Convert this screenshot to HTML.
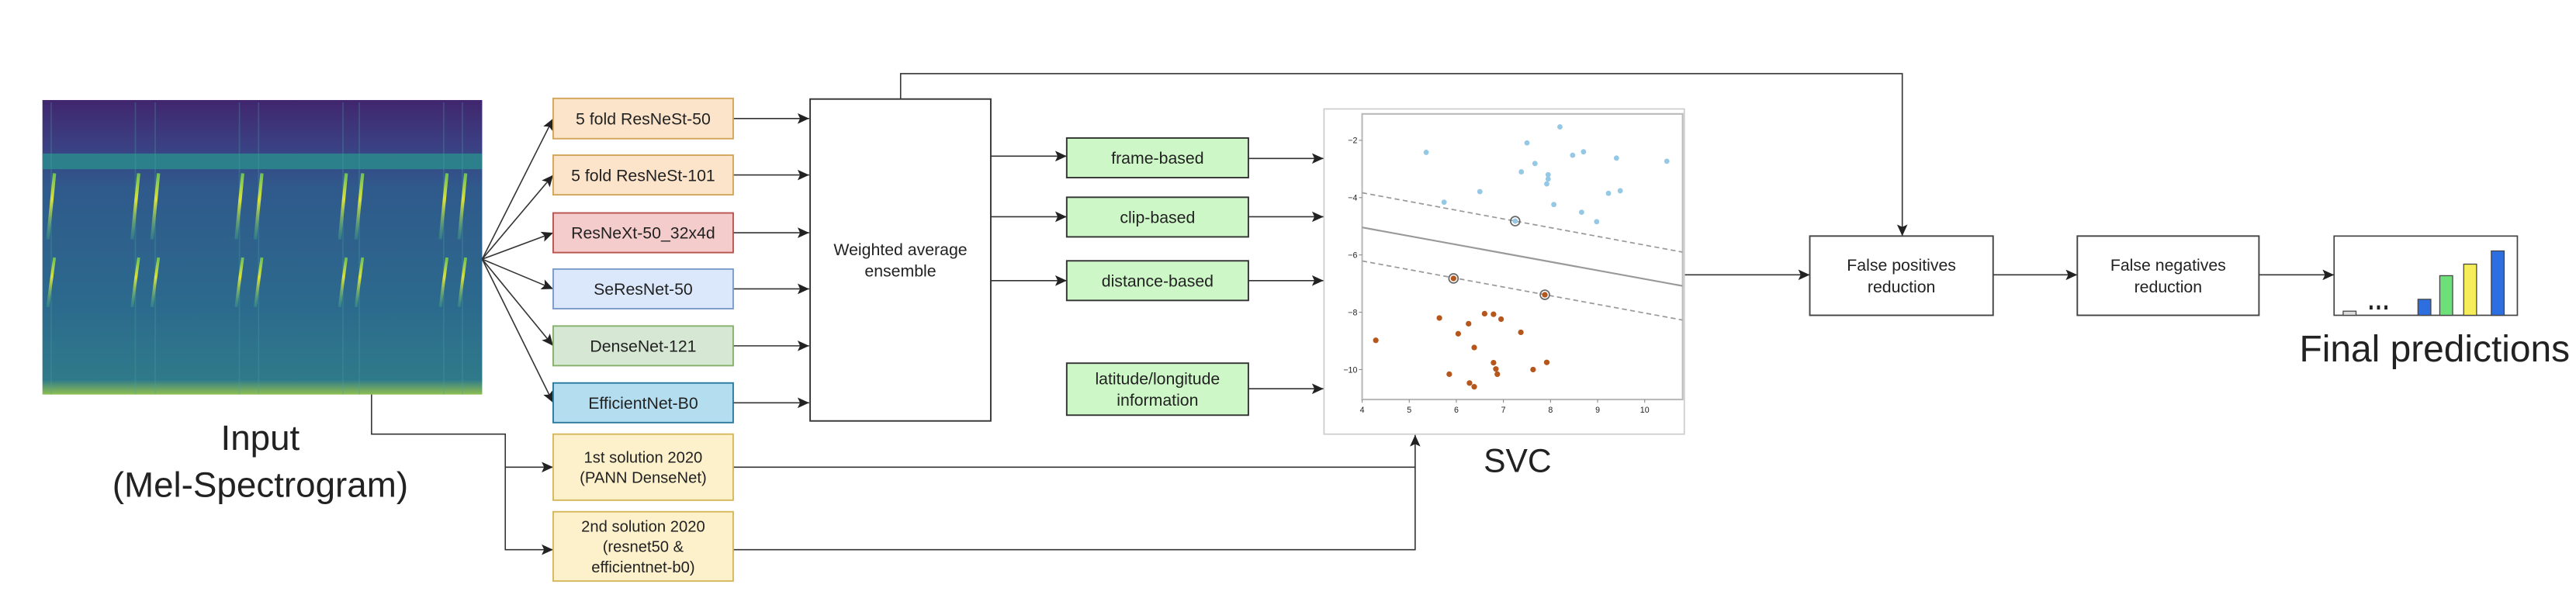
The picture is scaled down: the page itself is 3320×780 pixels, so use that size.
<!DOCTYPE html>
<html><head><meta charset="utf-8">
<style>
html,body{margin:0;padding:0;background:#fff;}
svg{display:block;}
text{font-family:"Liberation Sans",sans-serif;fill:#222;}
</style></head>
<body>
<svg id="root" width="3320" height="780" viewBox="0 0 1560 366.5" preserveAspectRatio="none" xmlns="http://www.w3.org/2000/svg">
<defs>
<marker id="ah" markerWidth="8" markerHeight="8" refX="7" refY="4" orient="auto" markerUnits="userSpaceOnUse">
<path d="M0,0.8 L7,4 L0,7.2 L1.5,4 Z" fill="#222"/>
</marker>
<linearGradient id="specbg" x1="0" y1="0" x2="0" y2="1">
<stop offset="0" stop-color="#41266e"/>
<stop offset="0.15" stop-color="#3b3f82"/>
<stop offset="0.3" stop-color="#2f5a8c"/>
<stop offset="0.7" stop-color="#2c6a8d"/>
<stop offset="0.95" stop-color="#2f7a8a"/>
<stop offset="1" stop-color="#8fbf50"/>
</linearGradient>
<linearGradient id="streak" x1="0" y1="0" x2="0" y2="1">
<stop offset="0" stop-color="#6cc05a"/>
<stop offset="0.4" stop-color="#d8e23a"/>
<stop offset="1" stop-color="#3aa08a" stop-opacity="0.4"/>
</linearGradient>
</defs>

<g>
<rect x="25.7" y="60.6" width="266.3" height="178.4" fill="url(#specbg)"/>
<rect x="25.7" y="93" width="266.3" height="9.5" fill="#2a8a8c" opacity="0.85"/>
<g id="streaks"></g>
</g>
<text x="157.6" y="272.6" font-size="21.5" text-anchor="middle">Input</text>
<text x="157.6" y="301" font-size="21.5" text-anchor="middle">(Mel-Spectrogram)</text>

<g id="connectors" fill="none" stroke="#333" stroke-width="0.75"></g>
<g id="boxes"></g>

<g>
<rect x="801.8" y="66" width="218.2" height="197" fill="#fff" stroke="#ccc" stroke-width="0.8"/>
<rect x="824.9" y="69" width="194.1" height="173" fill="#fff" stroke="#bbb" stroke-width="1"/>
<g id="svc"></g>
</g>
<text x="919" y="286" font-size="20" text-anchor="middle">SVC</text>

<g>
<rect x="1413.5" y="143" width="111" height="48" fill="#fff" stroke="#444" stroke-width="0.8"/>
<g id="bars"></g>
</g>
<text x="1392.5" y="219" font-size="22.5">Final predictions</text>
</svg>

<script>
// ---------- SVC chart data ----------
const blueX = [5.36,8.2,7.5,8.47,8.7,9.4,10.47,7.67,7.38,7.95,7.95,7.92,6.5,9.23,9.48,5.74,8.07,8.66,8.98,7.25];
const blueY = [-2.42,-1.53,-2.09,-2.52,-2.4,-2.62,-2.73,-2.81,-3.1,-3.2,-3.35,-3.52,-3.79,-3.85,-3.76,-4.16,-4.24,-4.51,-4.84,-4.82];
const orangeX = [4.29,5.64,6.26,6.04,6.6,6.79,6.95,7.37,6.38,6.79,6.84,6.87,5.85,6.28,6.38,7.63,7.92,5.94,7.88];
const orangeY = [-8.98,-8.2,-8.4,-8.75,-8.05,-8.07,-8.24,-8.7,-9.23,-9.76,-9.98,-10.16,-10.16,-10.47,-10.6,-10.0,-9.75,-6.82,-7.39];
const supportX = [7.25,5.94,7.88];
const supportY = [-4.82,-6.82,-7.39];
const lineStartY = [-3.83,-5.04,-6.21];
const lineEndY = [-5.9,-7.08,-8.27];
const xTicks = [4,5,6,7,8,9,10];
const yTicks = [-2,-4,-6,-8,-10];
// ---------- Final prediction bars ----------
const barValues = [2.5,9.7,24,31,39];
const barColors = ['#dddddd','#2d6fe0','#6ee07a','#f5ee5a','#2d6fe0'];

const NS='http://www.w3.org/2000/svg';
function mk(tag, attrs, parent){const e=document.createElementNS(NS,tag);for(const k in attrs)e.setAttribute(k,attrs[k]);parent.appendChild(e);return e;}

const sx = v => 824.9 + (v-4)*28.52;
const sy = v => 85 - (v+2)*17.36;
const svc = document.getElementById('svc');
const xMax = 10.8;
for(let i=0;i<lineStartY.length;i++){
  const l = mk('line',{x1:sx(4),y1:sy(lineStartY[i]),x2:sx(xMax),y2:sy(lineEndY[i]),stroke:'#999','stroke-width':i===1?1:0.8,'stroke-dasharray':i===1?'':'3,2'},svc);
  
  
}
for(let i=0;i<blueX.length;i++){
  const c=mk('circle',{cx:sx(blueX[i]),cy:sy(blueY[i]),r:1.6,fill:'#94c8e4'},svc);
  
  
}
for(let i=0;i<orangeX.length;i++){
  const c=mk('circle',{cx:sx(orangeX[i]),cy:sy(orangeY[i]),r:1.7,fill:'#b5561c'},svc);
  
  
}
for(let i=0;i<supportX.length;i++){
  const c=mk('circle',{cx:sx(supportX[i]),cy:sy(supportY[i]),r:2.8,fill:'none',stroke:'#666','stroke-width':0.8},svc);
  
  
}
for(const t of xTicks){
  mk('line',{x1:sx(t),y1:242,x2:sx(t),y2:244,stroke:'#888','stroke-width':0.5},svc);
  const tx=mk('text',{x:sx(t),y:250,'font-size':5,'text-anchor':'middle',fill:'#777'},svc);
  tx.textContent=t;
  
  
}
for(const t of yTicks){
  mk('line',{x1:823,y1:sy(t),x2:824.9,y2:sy(t),stroke:'#888','stroke-width':0.5},svc);
  const tx=mk('text',{x:822,y:sy(t)+1.8,'font-size':5,'text-anchor':'end',fill:'#777'},svc);
  tx.textContent='\u2212'+Math.abs(t);
  
  
}

const bars=document.getElementById('bars');
const barX=[1419,1464.3,1477.5,1492,1508.7];
const baseY=191;
for(let i=0;i<barValues.length;i++){
  const b=mk('rect',{x:barX[i],y:baseY-barValues[i],width:7.8,height:barValues[i],fill:barColors[i],stroke:'#444','stroke-width':0.6},bars);
  
  
}
for(const dx of [1435,1439.5,1444]){mk('rect',{x:dx,y:185,width:1.8,height:2.5,fill:'#222'},bars);}

const st=document.getElementById('streaks');
const streakX=[31,82,94,145,156.6,207.7,217.6,268.7,280];
for(const x of streakX){
  mk('line',{x1:x,y1:62,x2:x,y2:239,stroke:'#4aa0a0','stroke-width':0.8,opacity:0.3},st);
  mk('path',{d:`M${x+2},105 Q${x},125 ${x-2},145`,stroke:'url(#streak)','stroke-width':2,fill:'none'},st);
  mk('path',{d:`M${x+2},156 Q${x},170 ${x-2},186`,stroke:'url(#streak)','stroke-width':1.8,fill:'none'},st);
}

const boxes=document.getElementById('boxes');
function box(name,x,y,w,h,fill,stroke,lines,fs){
  const g=mk('g',{},boxes);
  
  
  mk('rect',{x:x,y:y,width:w,height:h,fill:fill,stroke:stroke,'stroke-width':0.9},g);
  const lh=fs*1.3, cy=y+h/2-(lines.length-1)*lh/2;
  lines.forEach((t,i)=>{const tx=mk('text',{x:x+w/2,y:cy+i*lh+fs*0.36,'font-size':fs,'text-anchor':'middle'},g);tx.textContent=t;});
}
const mx=335, mw=109;
box('resnest50-box',mx,59.6,mw,24.4,'#fce4cb','#d2a65a',['5 fold ResNeSt-50'],10);
box('resnest101-box',mx,94,mw,24,'#fce4cb','#d2a65a',['5 fold ResNeSt-101'],10);
box('resnext50-box',mx,129,mw,24,'#f5cccc','#b85450',['ResNeXt-50_32x4d'],10);
box('seresnet50-box',mx,163,mw,24,'#dbe8fb','#7b9bc8',['SeResNet-50'],10);
box('densenet121-box',mx,197.5,mw,24,'#d6e8d4','#86b06c',['DenseNet-121'],10);
box('efficientnet-b0-box',mx,232,mw,24,'#b4def0','#2b7aa0',['EfficientNet-B0'],10);
box('first-solution-box',mx,263,mw,40,'#fdf1cc','#d5b85c',['1st solution 2020','(PANN DenseNet)'],9.5);
box('second-solution-box',mx,310,mw,42,'#fdf1cc','#d5b85c',['2nd solution 2020','(resnet50 &','efficientnet-b0)'],9.5);
box('weighted-ensemble-box',490.6,60,109.4,195,'#fff','#333',['Weighted average','ensemble'],10);
box('frame-based-box',646,83.6,110,24,'#cef7c8','#333',['frame-based'],10);
box('clip-based-box',646,119.5,110,24,'#cef7c8','#333',['clip-based'],10);
box('distance-based-box',646,158,110,24,'#cef7c8','#333',['distance-based'],10);
box('lat-long-box',646,220,110,31.5,'#cef7c8','#333',['latitude/longitude','information'],10);
box('false-positives-box',1096,143,111,48,'#fff','#444',['False positives','reduction'],10);
box('false-negatives-box',1258,143,110,48,'#fff','#444',['False negatives','reduction'],10);

const cn=document.getElementById('connectors');
function arrow(d){mk('path',{d:d,'marker-end':'url(#ah)'},cn);}
const fanY=[71.8,106,141,175,209.5,244];
for(const y of fanY) arrow(`M292,157 L335,${y}`);
for(const y of fanY) arrow(`M444,${y} L490,${y}`);
arrow('M225,239 L225,263 L306,263 L306,283 L335,283');
arrow('M306,283 L306,333 L335,333');
arrow('M444,283 L857,283 L857,263.5');
mk('path',{d:'M444,333 L857,333 L857,283'},cn);
arrow('M600,94.6 L646,94.6');
arrow('M600,131.3 L646,131.3');
arrow('M600,170 L646,170');
arrow('M756,96 L801.5,96');
arrow('M756,131.3 L801.5,131.3');
arrow('M756,170 L801.5,170');
arrow('M756,235.5 L801.5,235.5');
arrow('M545.4,60 L545.4,44.6 L1152,44.6 L1152,143');
arrow('M1020,166.5 L1096,166.5');
arrow('M1207,166.5 L1258,166.5');
arrow('M1368,166.5 L1413.5,166.5');
</script>
</body></html>
